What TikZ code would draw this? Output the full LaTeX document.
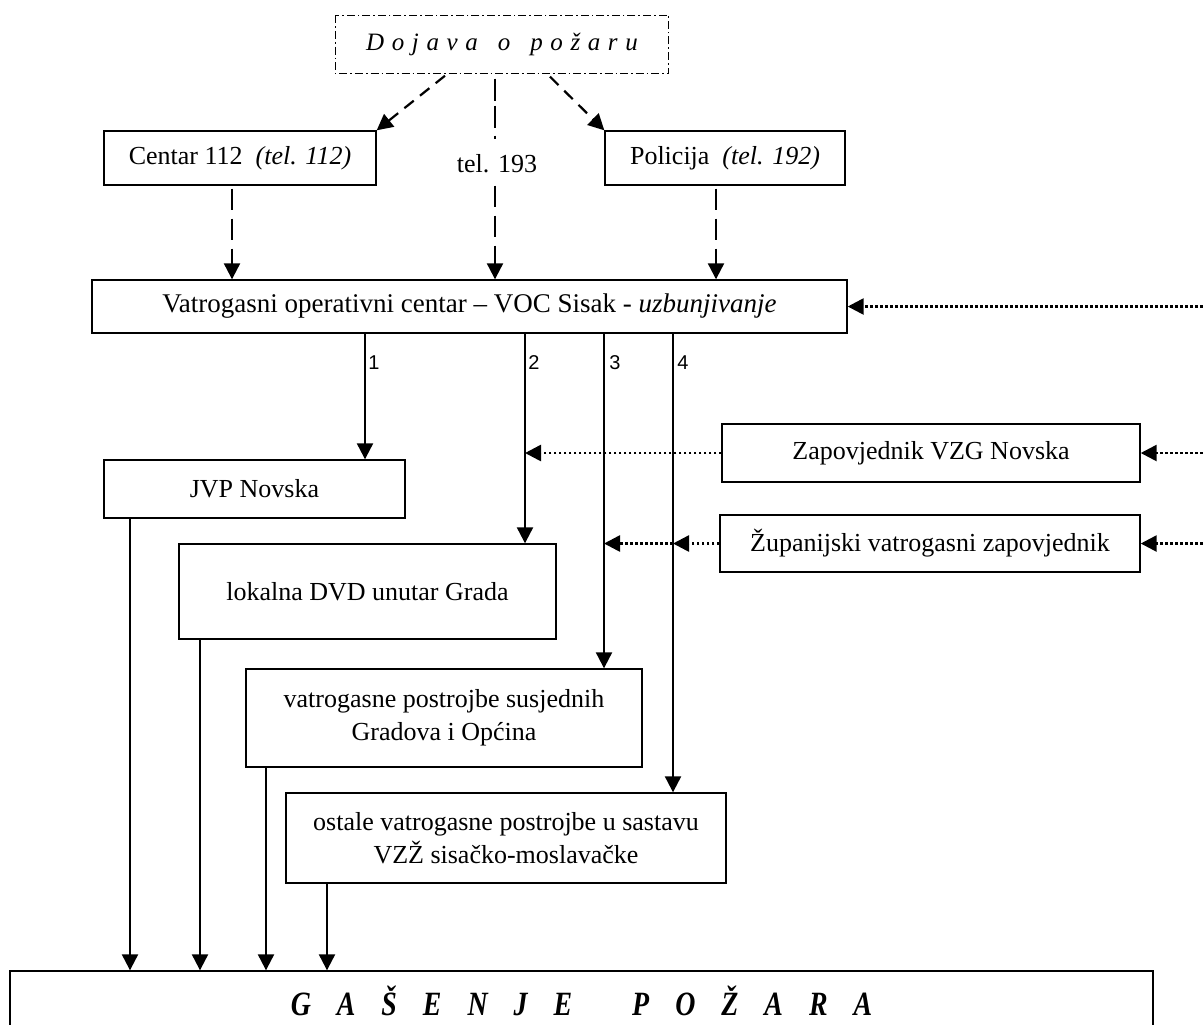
\documentclass[tikz,border=0pt]{standalone}
\usepackage{fontspec}
\setmainfont{Liberation Serif}
\newfontfamily\labfont{Liberation Sans}
\newfontfamily\gfont[FakeStretch=0.82]{Liberation Serif}
\usetikzlibrary{arrows.meta,calc}
\begin{document}
\begin{tikzpicture}[x=0.5pt,y=-0.5pt,
  box/.style={draw,line width=0.7pt,inner sep=0pt,align=center,font=\fontsize{13}{16.5}\selectfont},
  tip/.style={-{Triangle[width=8pt,length=8pt]}},
  solidarrow/.style={tip,line width=1.1pt},
  dasharrow/.style={tip,line width=1.1pt,dash pattern=on 10.5pt off 4.5pt},
  diagarrow/.style={tip,line width=1.1pt,dash pattern=on 6pt off 4pt},
  dotarrow/.style={tip,line width=1.3pt,dash pattern=on 1.3pt off 1.2pt},
  numlab/.style={inner sep=0pt,font=\labfont\fontsize{10}{12}\selectfont},
  plain/.style={inner sep=2pt,font=\fontsize{13}{16.5}\selectfont}]
\useasboundingbox (0,0) rectangle (1203,1024);
% boxes
\node[box,draw=none,minimum width=166pt,minimum height=28.5pt] (dojava) at (502,44.5)
  {\fontsize{12.5}{14}\selectfont\itshape D\hspace{3.8pt}o\hspace{3.8pt}j\hspace{3.8pt}a\hspace{3.8pt}v\hspace{3.8pt}a\hspace{10pt}o\hspace{10pt}p\hspace{3.8pt}o\hspace{3.8pt}ž\hspace{3.8pt}a\hspace{3.8pt}r\hspace{3.8pt}u};
\draw[line width=0.7pt,dash pattern=on 4pt off 1.5pt on 0.8pt off 1.5pt] (dojava.north west) rectangle (dojava.south east);
\node[box,minimum width=136pt,minimum height=27pt] (centar) at (240,158) {Centar 112\ \ \textit{(tel. 112)}};
\node[box,minimum width=120pt,minimum height=27pt] (policija) at (725,158) {Policija\ \ \textit{(tel. 192)}};
\node[plain] (tel) at (497,164) {tel. 193};
\node[box,minimum width=377.5pt,minimum height=26.5pt] (voc) at (469.5,306.5) {\fontsize{13.5}{16.5}\selectfont Vatrogasni operativni centar – VOC Sisak - \textit{uzbunjivanje}};
\node[box,minimum width=150.5pt,minimum height=29pt] (jvp) at (254.5,489) {JVP Novska};
\node[box,minimum width=188.5pt,minimum height=47.5pt] (lokalna) at (367.5,591.5) {lokalna DVD unutar Grada};
\node[box,minimum width=198pt,minimum height=49pt] (vatro) at (444,718) {vatrogasne postrojbe susjednih\\Gradova i Općina};
\node[box,minimum width=220pt,minimum height=45pt] (ostale) at (506,838) {ostale vatrogasne postrojbe u sastavu\\VZŽ sisačko-moslavačke};
\node[box,minimum width=209pt,minimum height=29pt] (zap) at (931,453) {Zapovjednik VZG Novska};
\node[box,minimum width=210pt,minimum height=28.5pt] (zup) at (930,543.5) {Županijski vatrogasni zapovjednik};
\node[box,minimum width=571.5pt,minimum height=30pt] (gas) at (581.5,1001)
  {\gfont\bfseries\itshape\fontsize{17}{19}\selectfont G\hspace{13pt}A\hspace{13pt}Š\hspace{13pt}E\hspace{13pt}N\hspace{13pt}J\hspace{13pt}E\hspace{30pt}P\hspace{13pt}O\hspace{13pt}Ž\hspace{13pt}A\hspace{13pt}R\hspace{13pt}A};
% x positions
\coordinate (xc) at (232,0);
\coordinate (xp) at (716,0);
\coordinate (xt) at (495,0);
\coordinate (x1) at (365,0);
\coordinate (x2) at (525,0);
\coordinate (x3) at (604,0);
\coordinate (x4) at (673,0);
\coordinate (b1) at (130,0);
\coordinate (b2) at (200,0);
\coordinate (b3) at (266,0);
\coordinate (b4) at (327,0);
\coordinate (xr) at (1203,0);
% top connectors
\draw[diagarrow] ($(dojava.south)+(-57,2)$) -- (centar.north east);
\draw[diagarrow] ($(dojava.south)+(48,3)$) -- (policija.north west);
\draw[line width=1.1pt,dash pattern=on 11pt off 2.5pt on 11pt off 4pt on 1.5pt off 20pt] ($(dojava.south -| xt)+(0,5)$) -- ($(tel.north -| xt)+(0,-4)$);
\draw[dasharrow] ($(tel.south -| xt)+(0,8)$) -- (voc.north -| xt);
\draw[dasharrow] ($(centar.south -| xc)+(0,3)$) -- (voc.north -| xc);
\draw[dasharrow] ($(policija.south -| xp)+(0,3)$) -- (voc.north -| xp);
\draw[dotarrow] (voc.east -| xr) -- (voc.east);
% VOC outputs
\draw[solidarrow] (voc.south -| x1) -- (jvp.north -| x1);
\draw[solidarrow] (voc.south -| x2) -- (lokalna.north -| x2);
\draw[solidarrow] (voc.south -| x3) -- (vatro.north -| x3);
\draw[solidarrow] (voc.south -| x4) -- (ostale.north -| x4);
\node[numlab] (n1) at (374,363) {1};
\node[numlab] (n2) at (534,363) {2};
\node[numlab] (n3) at (615,363) {3};
\node[numlab] (n4) at (683,363) {4};
% commanders
\draw[dotarrow] (zap.west) -- (zap.west -| x2);
\draw[dotarrow] (zup.west) -- (zup.west -| x4);
\draw[dotarrow] (zup.west -| x4) -- (zup.west -| x3);
\draw[dotarrow] (zap.east -| xr) -- (zap.east);
\draw[dotarrow] (zup.east -| xr) -- (zup.east);
% to GASENJE
\draw[solidarrow] (jvp.south -| b1) -- (gas.north -| b1);
\draw[solidarrow] (lokalna.south -| b2) -- (gas.north -| b2);
\draw[solidarrow] (vatro.south -| b3) -- (gas.north -| b3);
\draw[solidarrow] (ostale.south -| b4) -- (gas.north -| b4);
\end{tikzpicture}
\end{document}
